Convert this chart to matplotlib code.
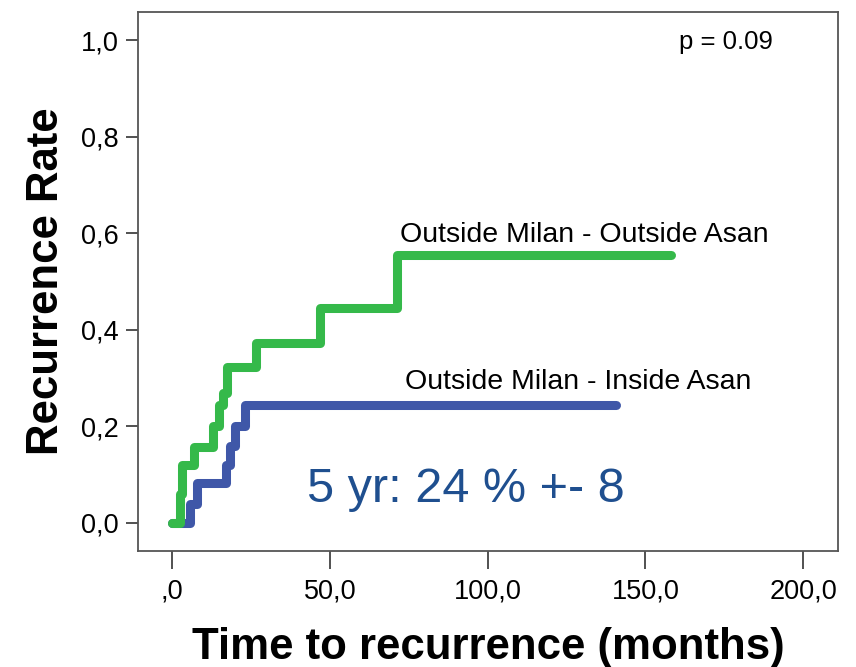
import matplotlib
matplotlib.use("Agg")
import matplotlib.pyplot as plt

plt.rcParams['font.family'] = ['Liberation Sans', 'DejaVu Sans']

# Cumulative recurrence (step functions): event times in months and rate after each step
green_times = [0, 2.5, 3.2, 7, 13, 15, 16, 17.5, 26.5, 47, 71.3, 158]
green_rate = [0.0, 0.06, 0.12, 0.157, 0.20, 0.244, 0.27, 0.323, 0.373, 0.445, 0.555, 0.555]

blue_times = [0, 5.7, 7.8, 17, 18.5, 20, 23, 140.8]
blue_rate = [0.0, 0.04, 0.083, 0.12, 0.16, 0.20, 0.244, 0.244]

x_ticks = [0, 50, 100, 150, 200]
x_tick_labels = [",0", "50,0", "100,0", "150,0", "200,0"]
y_ticks = [0.0, 0.2, 0.4, 0.6, 0.8, 1.0]
y_tick_labels = ["0,0", "0,2", "0,4", "0,6", "0,8", "1,0"]

green = "#35b94a"
blue = "#3f57a8"

fig = plt.figure(figsize=(8.56, 6.67), dpi=100)
ax = fig.add_axes([0.1612, 0.174, 0.979 - 0.1612, 0.982 - 0.174])

ax.step(blue_times, blue_rate, where="post", color=blue, lw=6.5,
        solid_capstyle="round", solid_joinstyle="round")
ax.step(green_times, green_rate, where="post", color=green, lw=6.5,
        solid_capstyle="round", solid_joinstyle="round")

ax.set_xlim(-10.8, 211)
ax.set_ylim(-0.058, 1.058)

ax.set_xticks(x_ticks)
ax.set_xticklabels(x_tick_labels, fontsize=19.5)
ax.set_yticks(y_ticks)
ax.set_yticklabels(y_tick_labels, fontsize=19.5)
ax.tick_params(axis="x", length=13, width=1.2, color="#333333", pad=7)
ax.tick_params(axis="y", length=9, width=1.2, color="#333333", pad=5)

for s in ax.spines.values():
    s.set_color("#555555")
    s.set_linewidth(1.3)

ax.set_xlabel("Time to recurrence (months)", fontsize=31.5, fontweight="bold", labelpad=16)
ax.set_ylabel("Recurrence Rate", fontsize=31.5, fontweight="bold", labelpad=10)

ax.text(72.3, 0.596, "Outside Milan - Outside Asan", fontsize=20.5, ha="left", va="center")
ax.text(73.9, 0.292, "Outside Milan - Inside Asan", fontsize=20.5, ha="left", va="center")
ax.text(190.5, 0.995, "p = 0.09", fontsize=18.5, ha="right", va="center")
ax.text(93, 0.07, "5 yr: 24 % +- 8", fontsize=35, color="#1f4f8f", ha="center", va="center")

fig.savefig("out.png", dpi=100)
